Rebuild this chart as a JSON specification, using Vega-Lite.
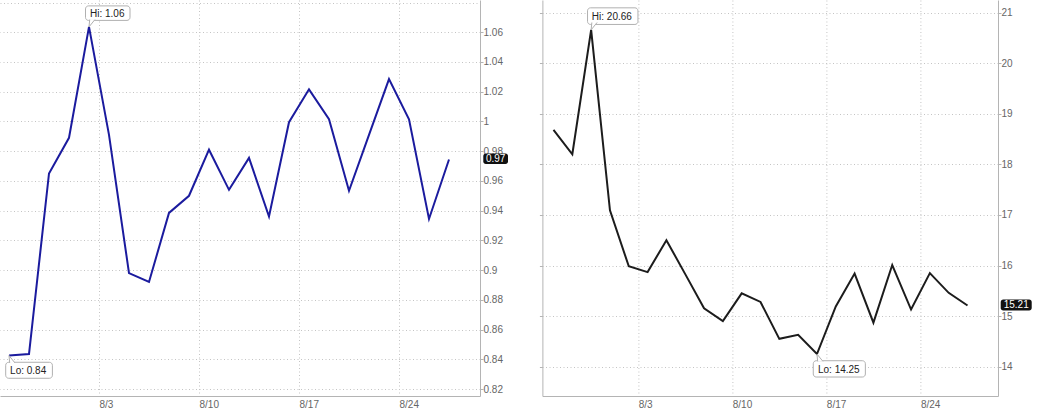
{
  "$schema": "https://vega.github.io/schema/vega-lite/v6.json",
  "padding": 0,
  "background": "white",
  "bounds": "flush",
  "spacing": 62.4,
  "config": {
    "view": {"stroke": null},
    "font": "Liberation Sans",
    "axis": {
      "labelFont": "Liberation Sans",
      "labelFontSize": 10,
      "labelColor": "#666666",
      "labelOverlap": false,
      "labelFlush": false,
      "domainColor": "#b4b4b4",
      "tickColor": "#b4b4b4",
      "gridColor": "#c4c4c4",
      "gridDash": [1, 2.5],
      "gridWidth": 1,
      "title": null,
      "tickSize": 3,
      "labelPadding": 0
    }
  },
  "datasets": {
    "ratio": [
      {"i": 0, "d": "7/27", "v": 0.8425, "note": "Lo: 0.84"},
      {"i": 1, "d": "7/28", "v": 0.8435},
      {"i": 2, "d": "7/29", "v": 0.965},
      {"i": 3, "d": "7/30", "v": 0.989},
      {"i": 4, "d": "7/31", "v": 1.0636, "note": "Hi: 1.06"},
      {"i": 5, "d": "8/3", "v": 0.991},
      {"i": 6, "d": "8/4", "v": 0.898},
      {"i": 7, "d": "8/5", "v": 0.892},
      {"i": 8, "d": "8/6", "v": 0.9385},
      {"i": 9, "d": "8/7", "v": 0.95},
      {"i": 10, "d": "8/10", "v": 0.981},
      {"i": 11, "d": "8/11", "v": 0.954},
      {"i": 12, "d": "8/12", "v": 0.9755},
      {"i": 13, "d": "8/13", "v": 0.936},
      {"i": 14, "d": "8/14", "v": 0.9995},
      {"i": 15, "d": "8/17", "v": 1.0216},
      {"i": 16, "d": "8/18", "v": 1.0015},
      {"i": 17, "d": "8/19", "v": 0.9534},
      {"i": 18, "d": "8/20", "v": 0.991},
      {"i": 19, "d": "8/21", "v": 1.0285},
      {"i": 20, "d": "8/24", "v": 1.0015},
      {"i": 21, "d": "8/25", "v": 0.9344},
      {"i": 22, "d": "8/26", "v": 0.9744, "tag": "0.97"}
    ],
    "vix": [
      {"i": 0, "d": "7/27", "v": 18.68},
      {"i": 1, "d": "7/28", "v": 18.2},
      {"i": 2, "d": "7/29", "v": 20.66, "note": "Hi: 20.66"},
      {"i": 3, "d": "7/30", "v": 17.09},
      {"i": 4, "d": "7/31", "v": 15.985},
      {"i": 5, "d": "8/3", "v": 15.87},
      {"i": 6, "d": "8/4", "v": 16.5},
      {"i": 7, "d": "8/5", "v": 15.83},
      {"i": 8, "d": "8/6", "v": 15.155},
      {"i": 9, "d": "8/7", "v": 14.9},
      {"i": 10, "d": "8/10", "v": 15.45},
      {"i": 11, "d": "8/11", "v": 15.28},
      {"i": 12, "d": "8/12", "v": 14.55},
      {"i": 13, "d": "8/13", "v": 14.63},
      {"i": 14, "d": "8/14", "v": 14.25, "note": "Lo: 14.25"},
      {"i": 15, "d": "8/17", "v": 15.19},
      {"i": 16, "d": "8/18", "v": 15.84},
      {"i": 17, "d": "8/19", "v": 14.87},
      {"i": 18, "d": "8/20", "v": 16.01},
      {"i": 19, "d": "8/21", "v": 15.13},
      {"i": 20, "d": "8/24", "v": 15.85},
      {"i": 21, "d": "8/25", "v": 15.46},
      {"i": 22, "d": "8/26", "v": 15.21, "tag": "15.21"}
    ]
  },
  "hconcat": [
    {
      "width": 480,
      "height": 396,
      "data": {"name": "ratio"},
      "resolve": {"axis": {"y": "independent"}},
      "layer": [
        {
          "mark": {"type": "line", "color": "#1b1b9e", "strokeWidth": 2},
          "encoding": {
            "x": {
              "field": "i", "type": "quantitative",
              "scale": {"domain": [-0.45, 23.55], "nice": false, "zero": false},
              "axis": {
                "values": [4.5, 9.5, 14.5, 19.5],
                "labelExpr": "datum.value == 4.5 ? '8/3' : datum.value == 9.5 ? '8/10' : datum.value == 14.5 ? '8/17' : '8/24'",
                "labelAlign": "left", "labelBaseline": "top", "ticks": false, "labelPadding": 3, "grid": true
              }
            },
            "y": {
              "field": "v", "type": "quantitative",
              "scale": {"domain": [0.8153, 1.0817], "nice": false, "zero": false},
              "axis": {
                "orient": "right",
                "values": [0.82, 0.84, 0.86, 0.88, 0.9, 0.92, 0.94, 0.96, 0.98, 1, 1.02, 1.04, 1.06],
                "tickCount": 30,
                "labelExpr": "format(datum.value, '~g')",
                "labelOverlap": false,
                "grid": true
              }
            }
          }
        },
        {
          "transform": [{"filter": "datum.i == 0"}],
          "mark": {"type": "point", "opacity": 0},
          "encoding": {
            "x": {"field": "i", "type": "quantitative"},
            "y": {"field": "v", "type": "quantitative", "axis": {"orient": "left", "values": [1.08], "tickCount": 30, "labels": false, "ticks": false, "domain": false, "grid": true}}
          }
        },
        {
          "transform": [{"filter": "datum.note && indexof(datum.note, 'Hi') == 0"}],
          "mark": {"type": "rect", "fill": "white", "stroke": "#b0b0b0", "strokeWidth": 1, "cornerRadius": 3, "xOffset": -3.5, "x2Offset": 41, "yOffset": -21, "y2Offset": -6.5},
          "encoding": {"x": {"field": "i", "type": "quantitative"}, "x2": {"field": "i"}, "y": {"field": "v", "type": "quantitative", "axis": null}, "y2": {"field": "v"}}
        },
        {
          "transform": [{"filter": "datum.note && indexof(datum.note, 'Lo') == 0"}],
          "mark": {"type": "rect", "fill": "white", "stroke": "#b0b0b0", "strokeWidth": 1, "cornerRadius": 3, "xOffset": -3.3, "x2Offset": 43.4, "yOffset": 6.7, "y2Offset": 22.7},
          "encoding": {"x": {"field": "i", "type": "quantitative"}, "x2": {"field": "i"}, "y": {"field": "v", "type": "quantitative", "axis": null}, "y2": {"field": "v"}}
        },
        {
          "transform": [{"filter": "datum.note && indexof(datum.note, 'Hi') == 0"}],
          "mark": {"type": "point", "shape": "M0.1,-1.05 L0,0 L0.85,-1.05", "size": 196, "filled": true, "fill": "white", "stroke": "#b0b0b0", "strokeWidth": 1, "opacity": 1},
          "encoding": {"x": {"field": "i", "type": "quantitative"}, "y": {"field": "v", "type": "quantitative", "axis": null}}
        },
        {
          "transform": [{"filter": "datum.note && indexof(datum.note, 'Lo') == 0"}],
          "mark": {"type": "point", "shape": "M0.1,1.05 L0,0 L0.85,1.05", "size": 196, "filled": true, "fill": "white", "stroke": "#b0b0b0", "strokeWidth": 1, "opacity": 1},
          "encoding": {"x": {"field": "i", "type": "quantitative"}, "y": {"field": "v", "type": "quantitative", "axis": null}}
        },
        {
          "transform": [{"filter": "datum.note && indexof(datum.note, 'Hi') == 0"}],
          "mark": {"type": "text", "align": "left", "baseline": "middle", "dx": 1, "dy": -13.4, "fontSize": 10, "color": "#222222", "font": "Liberation Sans"},
          "encoding": {"x": {"field": "i", "type": "quantitative"}, "y": {"field": "v", "type": "quantitative", "axis": null}, "text": {"field": "note"}}
        },
        {
          "transform": [{"filter": "datum.note && indexof(datum.note, 'Lo') == 0"}],
          "mark": {"type": "text", "align": "left", "baseline": "middle", "dx": 1.1, "dy": 15.5, "fontSize": 10, "color": "#222222", "font": "Liberation Sans"},
          "encoding": {"x": {"field": "i", "type": "quantitative"}, "y": {"field": "v", "type": "quantitative", "axis": null}, "text": {"field": "note"}}
        },
        {
          "transform": [{"filter": "datum.tag"}],
          "mark": {"type": "rect", "fill": "#111111", "cornerRadius": 2.5, "xOffset": 34.3, "x2Offset": 59, "yOffset": -6, "y2Offset": 4.6},
          "encoding": {"x": {"field": "i", "type": "quantitative"}, "x2": {"field": "i"}, "y": {"field": "v", "type": "quantitative", "axis": null}, "y2": {"field": "v"}}
        },
        {
          "transform": [{"filter": "datum.tag"}],
          "mark": {"type": "text", "align": "center", "baseline": "middle", "dx": 46.7, "dy": -0.7, "fontSize": 10, "color": "white", "font": "Liberation Sans"},
          "encoding": {"x": {"field": "i", "type": "quantitative"}, "y": {"field": "v", "type": "quantitative", "axis": null}, "text": {"field": "tag"}}
        }
      ]
    },
    {
      "width": 455.6,
      "height": 396,
      "data": {"name": "vix"},
      "resolve": {"axis": {"y": "independent"}},
      "layer": [
        {
          "mark": {"type": "line", "color": "#1c1c1c", "strokeWidth": 2},
          "encoding": {
            "x": {
              "field": "i", "type": "quantitative",
              "scale": {"domain": [-0.59, 23.62], "nice": false, "zero": false},
              "axis": {
                "values": [4.5, 9.5, 14.5, 19.5],
                "labelExpr": "datum.value == 4.5 ? '8/3' : datum.value == 9.5 ? '8/10' : datum.value == 14.5 ? '8/17' : '8/24'",
                "labelAlign": "left", "labelBaseline": "top", "ticks": false, "labelPadding": 3, "grid": true
              }
            },
            "y": {
              "field": "v", "type": "quantitative",
              "scale": {"domain": [13.42, 21.25], "nice": false, "zero": false},
              "axis": {"orient": "right", "values": [14, 15, 16, 17, 18, 19, 20, 21], "tickCount": 30, "format": "d", "labelOverlap": false, "grid": true}
            }
          }
        },
        {
          "transform": [{"filter": "datum.i == 0"}],
          "mark": {"type": "point", "opacity": 0},
          "encoding": {
            "x": {"field": "i", "type": "quantitative"},
            "y": {"field": "v", "type": "quantitative", "axis": {"orient": "left", "labels": false, "grid": false, "ticks": true, "domain": true, "tickCount": 30, "values": [14, 15, 16, 17, 18, 19, 20, 21]}}
          }
        },
        {
          "transform": [{"filter": "datum.note && indexof(datum.note, 'Hi') == 0"}],
          "mark": {"type": "rect", "fill": "white", "stroke": "#b0b0b0", "strokeWidth": 1, "cornerRadius": 3, "xOffset": -3.6, "x2Offset": 46.8, "yOffset": -22, "y2Offset": -5.4},
          "encoding": {"x": {"field": "i", "type": "quantitative"}, "x2": {"field": "i"}, "y": {"field": "v", "type": "quantitative", "axis": null}, "y2": {"field": "v"}}
        },
        {
          "transform": [{"filter": "datum.note && indexof(datum.note, 'Lo') == 0"}],
          "mark": {"type": "rect", "fill": "white", "stroke": "#b0b0b0", "strokeWidth": 1, "cornerRadius": 3, "xOffset": -3.7, "x2Offset": 48.4, "yOffset": 6.7, "y2Offset": 23},
          "encoding": {"x": {"field": "i", "type": "quantitative"}, "x2": {"field": "i"}, "y": {"field": "v", "type": "quantitative", "axis": null}, "y2": {"field": "v"}}
        },
        {
          "transform": [{"filter": "datum.note && indexof(datum.note, 'Hi') == 0"}],
          "mark": {"type": "point", "shape": "M0.1,-1.05 L0,0 L0.85,-1.05", "size": 196, "filled": true, "fill": "white", "stroke": "#b0b0b0", "strokeWidth": 1, "opacity": 1},
          "encoding": {"x": {"field": "i", "type": "quantitative"}, "y": {"field": "v", "type": "quantitative", "axis": null}}
        },
        {
          "transform": [{"filter": "datum.note && indexof(datum.note, 'Lo') == 0"}],
          "mark": {"type": "point", "shape": "M0.1,1.05 L0,0 L0.85,1.05", "size": 196, "filled": true, "fill": "white", "stroke": "#b0b0b0", "strokeWidth": 1, "opacity": 1},
          "encoding": {"x": {"field": "i", "type": "quantitative"}, "y": {"field": "v", "type": "quantitative", "axis": null}}
        },
        {
          "transform": [{"filter": "datum.note && indexof(datum.note, 'Hi') == 0"}],
          "mark": {"type": "text", "align": "left", "baseline": "middle", "dx": 0.7, "dy": -13, "fontSize": 10, "color": "#222222", "font": "Liberation Sans"},
          "encoding": {"x": {"field": "i", "type": "quantitative"}, "y": {"field": "v", "type": "quantitative", "axis": null}, "text": {"field": "note"}}
        },
        {
          "transform": [{"filter": "datum.note && indexof(datum.note, 'Lo') == 0"}],
          "mark": {"type": "text", "align": "left", "baseline": "middle", "dx": 1, "dy": 15.8, "fontSize": 10, "color": "#222222", "font": "Liberation Sans"},
          "encoding": {"x": {"field": "i", "type": "quantitative"}, "y": {"field": "v", "type": "quantitative", "axis": null}, "text": {"field": "note"}}
        },
        {
          "transform": [{"filter": "datum.tag"}],
          "mark": {"type": "rect", "fill": "#111111", "cornerRadius": 2.5, "xOffset": 33.2, "x2Offset": 64.2, "yOffset": -6, "y2Offset": 5},
          "encoding": {"x": {"field": "i", "type": "quantitative"}, "x2": {"field": "i"}, "y": {"field": "v", "type": "quantitative", "axis": null}, "y2": {"field": "v"}}
        },
        {
          "transform": [{"filter": "datum.tag"}],
          "mark": {"type": "text", "align": "center", "baseline": "middle", "dx": 48.7, "dy": -0.5, "fontSize": 10, "color": "white", "font": "Liberation Sans"},
          "encoding": {"x": {"field": "i", "type": "quantitative"}, "y": {"field": "v", "type": "quantitative", "axis": null}, "text": {"field": "tag"}}
        }
      ]
    }
  ]
}
